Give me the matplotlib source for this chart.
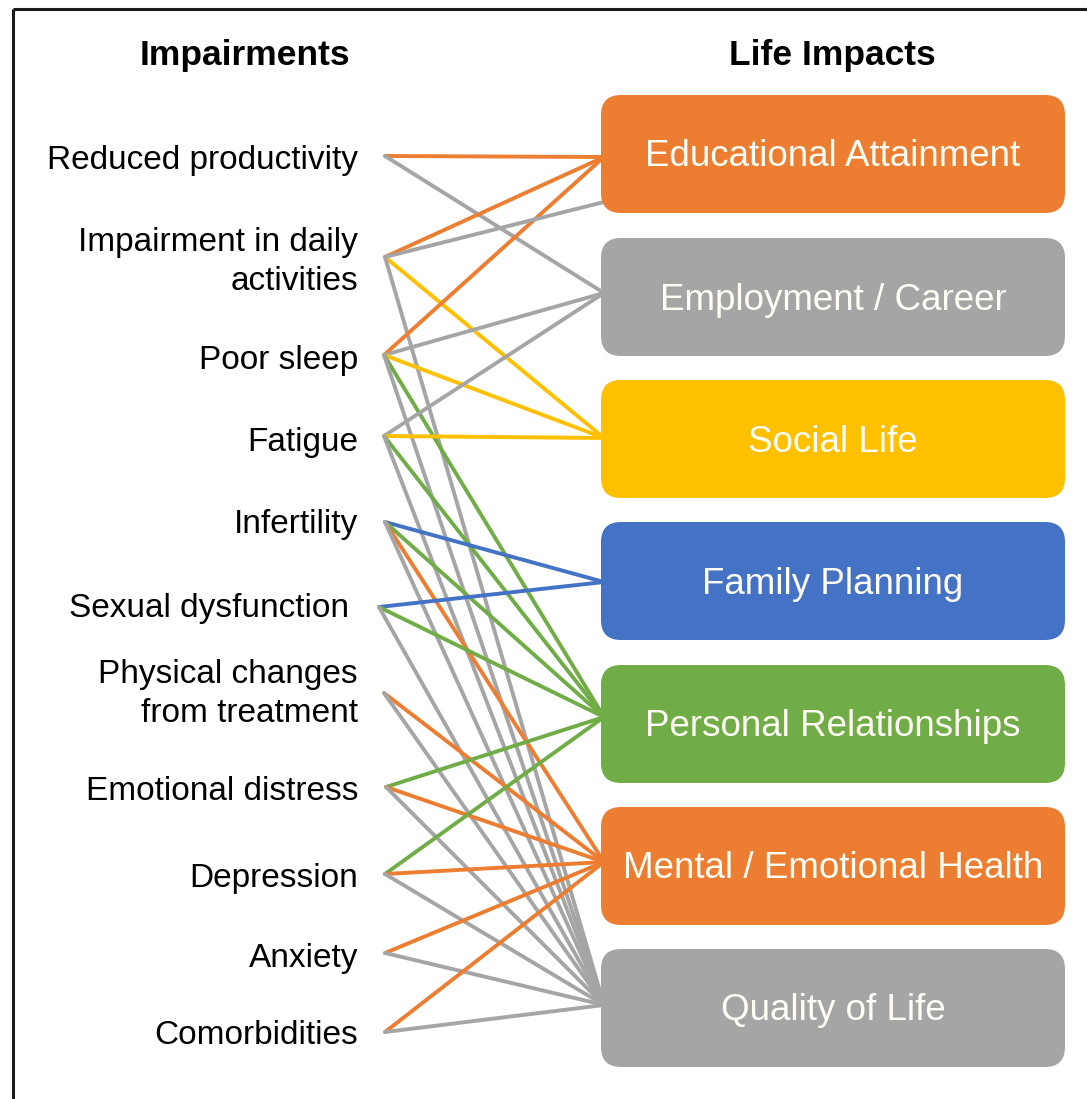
import matplotlib
matplotlib.use("Agg")
import matplotlib.pyplot as plt
from matplotlib.patches import FancyBboxPatch

plt.rcParams['font.family'] = ['Liberation Sans', 'DejaVu Sans']

# Left column: impairments
impairments = [
    "Reduced productivity",
    "Impairment in daily\nactivities",
    "Poor sleep",
    "Fatigue",
    "Infertility",
    "Sexual dysfunction ",
    "Physical changes\nfrom treatment",
    "Emotional distress",
    "Depression",
    "Anxiety",
    "Comorbidities",
]

# Right column: life impacts
impacts = [
    "Educational Attainment",
    "Employment / Career",
    "Social Life",
    "Family Planning",
    "Personal Relationships",
    "Mental / Emotional Health",
    "Quality of Life",
]

# Which impairment feeds which life impact
links = [
    ("Reduced productivity", "Educational Attainment"),
    ("Reduced productivity", "Employment / Career"),
    ("Impairment in daily\nactivities", "Educational Attainment"),
    ("Impairment in daily\nactivities", "Social Life"),
    ("Impairment in daily\nactivities", "Quality of Life"),
    ("Poor sleep", "Educational Attainment"),
    ("Poor sleep", "Employment / Career"),
    ("Poor sleep", "Social Life"),
    ("Poor sleep", "Personal Relationships"),
    ("Poor sleep", "Quality of Life"),
    ("Fatigue", "Employment / Career"),
    ("Fatigue", "Social Life"),
    ("Fatigue", "Personal Relationships"),
    ("Fatigue", "Quality of Life"),
    ("Infertility", "Family Planning"),
    ("Infertility", "Personal Relationships"),
    ("Infertility", "Mental / Emotional Health"),
    ("Infertility", "Quality of Life"),
    ("Sexual dysfunction ", "Family Planning"),
    ("Sexual dysfunction ", "Personal Relationships"),
    ("Sexual dysfunction ", "Quality of Life"),
    ("Physical changes\nfrom treatment", "Mental / Emotional Health"),
    ("Physical changes\nfrom treatment", "Quality of Life"),
    ("Emotional distress", "Personal Relationships"),
    ("Emotional distress", "Mental / Emotional Health"),
    ("Emotional distress", "Quality of Life"),
    ("Depression", "Personal Relationships"),
    ("Depression", "Mental / Emotional Health"),
    ("Depression", "Quality of Life"),
    ("Anxiety", "Mental / Emotional Health"),
    ("Anxiety", "Quality of Life"),
    ("Comorbidities", "Mental / Emotional Health"),
    ("Comorbidities", "Quality of Life"),
]
# extra grey link that lands on the lower part of the education box
extra_grey_links = [("Impairment in daily\nactivities", "Educational Attainment")]

# --- styling / layout (pixel space of the output image) ---
orange, grey, yellow, blue, green = "#ED7D31", "#A5A5A5", "#FFC000", "#4472C4", "#70AD47"
impact_colors = [orange, grey, yellow, blue, green, orange, grey]

label_y = [160, 262, 360, 443, 525, 609, 694, 791, 879, 958, 1035]
start_x = [385, 385, 384, 384, 385, 379, 384, 386, 385, 385, 385]
start_y = [156, 257, 355, 436, 522, 607, 693, 787, 874, 953, 1032]

box_top = [95, 238, 380, 522, 665, 807, 949]
box_h = 118
box_x0, box_x1 = 601, 1065
end_x = 601
end_y = [157, 293, 438, 582, 717, 862, 1005]
grey_end_y = 202

fig = plt.figure(figsize=(10.87, 10.99), dpi=100)
ax = fig.add_axes([0, 0, 1, 1])
ax.set_xlim(0, 1087)
ax.set_ylim(1099, 0)
ax.axis("off")

# frame
ax.plot([13, 13], [1099, 9], color="#1a1a1a", lw=2.2, solid_capstyle="butt")
ax.plot([13, 1087], [9, 9], color="#1a1a1a", lw=2.2, solid_capstyle="butt")

# titles
ax.text(245, 55, "Impairments", ha="center", va="center", fontsize=25.5, fontweight="bold")
ax.text(832, 55, "Life Impacts", ha="center", va="center", fontsize=25.5, fontweight="bold")

# connecting lines
def draw_link(imp, tgt, col, ey):
    i = impairments.index(imp)
    ax.plot([start_x[i], end_x + 3], [start_y[i], ey], color=col, lw=2.8,
            solid_capstyle="round", zorder=2)

for imp, tgt in links:
    j = impacts.index(tgt)
    draw_link(imp, tgt, impact_colors[j], end_y[j])
for imp, tgt in extra_grey_links:
    draw_link(imp, tgt, grey, grey_end_y)

# impairment labels
for i, name in enumerate(impairments):
    ax.text(358, label_y[i], name, ha="right", va="center", fontsize=24,
            linespacing=1.3, color="black")

# life impact boxes
for j, name in enumerate(impacts):
    box = FancyBboxPatch((box_x0, box_top[j]), box_x1 - box_x0, box_h,
                         boxstyle="round,pad=0,rounding_size=20",
                         facecolor=impact_colors[j], edgecolor="none", zorder=3)
    ax.add_patch(box)
    ax.text((box_x0 + box_x1) / 2, box_top[j] + box_h / 2 + 3, name, ha="center",
            va="center", fontsize=26.5, color="#FFFDF5", zorder=4)

fig.savefig("out.png", dpi=100)
